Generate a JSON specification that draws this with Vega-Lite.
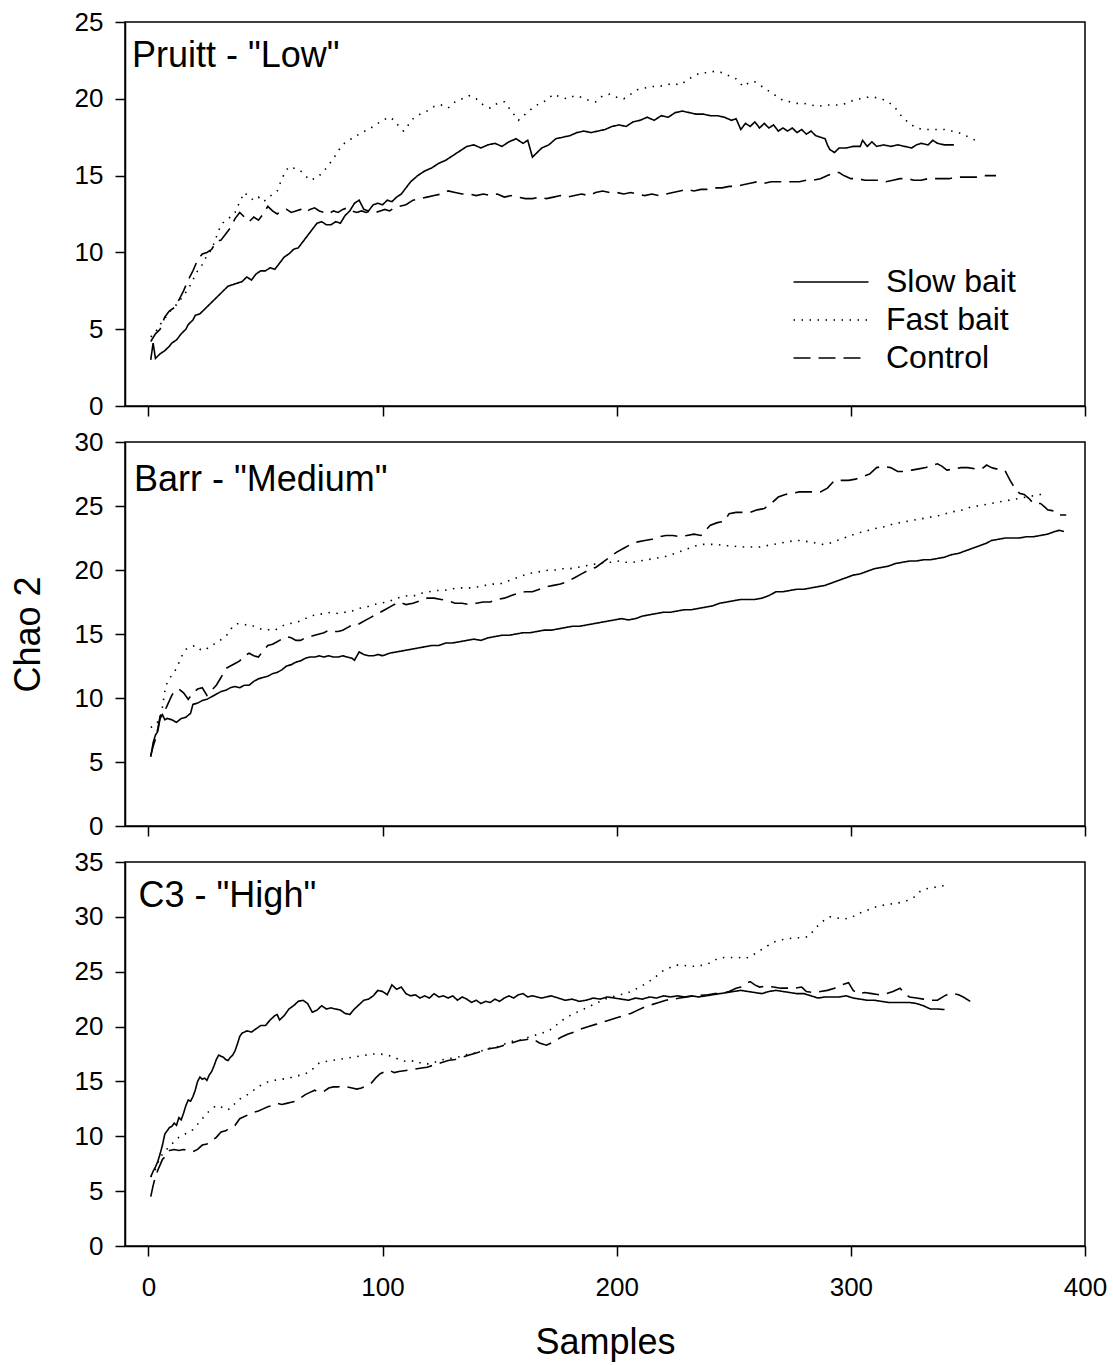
{
  "$schema": "https://vega.github.io/schema/vega-lite/v6.json",
  "background": "white",
  "padding": {"left": 9, "top": 8, "right": 5, "bottom": 5},
  "spacing": 36,
  "bounds": "flush",
  "resolve": {"scale": {"strokeDash": "independent"}, "legend": {"strokeDash": "independent"}},
  "datasets": {
    "pruitt": [
      {"s":"Slow bait","x":1,"y":3.0},{"s":"Slow bait","x":2,"y":4.1},{"s":"Slow bait","x":3,"y":3.1},{"s":"Slow bait","x":5,"y":3.4},{"s":"Slow bait","x":7,"y":3.6},{"s":"Slow bait","x":9,"y":3.9},{"s":"Slow bait","x":10,"y":4.1},{"s":"Slow bait","x":12,"y":4.3},{"s":"Slow bait","x":14,"y":4.7},{"s":"Slow bait","x":16,"y":5.0},{"s":"Slow bait","x":17,"y":5.3},{"s":"Slow bait","x":19,"y":5.6},{"s":"Slow bait","x":20,"y":5.9},{"s":"Slow bait","x":22,"y":6.0},{"s":"Slow bait","x":24,"y":6.3},{"s":"Slow bait","x":26,"y":6.6},{"s":"Slow bait","x":28,"y":6.9},{"s":"Slow bait","x":30,"y":7.2},{"s":"Slow bait","x":32,"y":7.5},{"s":"Slow bait","x":34,"y":7.8},{"s":"Slow bait","x":36,"y":7.9},{"s":"Slow bait","x":38,"y":8.0},{"s":"Slow bait","x":40,"y":8.1},{"s":"Slow bait","x":42,"y":8.4},{"s":"Slow bait","x":44,"y":8.2},{"s":"Slow bait","x":46,"y":8.6},{"s":"Slow bait","x":48,"y":8.8},{"s":"Slow bait","x":50,"y":8.8},{"s":"Slow bait","x":52,"y":9.0},{"s":"Slow bait","x":54,"y":8.9},{"s":"Slow bait","x":56,"y":9.3},{"s":"Slow bait","x":58,"y":9.7},{"s":"Slow bait","x":60,"y":9.9},{"s":"Slow bait","x":62,"y":10.2},{"s":"Slow bait","x":64,"y":10.3},{"s":"Slow bait","x":66,"y":10.7},{"s":"Slow bait","x":68,"y":11.1},{"s":"Slow bait","x":70,"y":11.5},{"s":"Slow bait","x":72,"y":11.9},{"s":"Slow bait","x":74,"y":12.0},{"s":"Slow bait","x":76,"y":11.8},{"s":"Slow bait","x":78,"y":11.8},{"s":"Slow bait","x":80,"y":12.0},{"s":"Slow bait","x":82,"y":11.9},{"s":"Slow bait","x":84,"y":12.4},{"s":"Slow bait","x":86,"y":12.7},{"s":"Slow bait","x":88,"y":13.2},{"s":"Slow bait","x":90,"y":13.4},{"s":"Slow bait","x":92,"y":12.8},{"s":"Slow bait","x":94,"y":12.7},{"s":"Slow bait","x":96,"y":13.1},{"s":"Slow bait","x":98,"y":13.2},{"s":"Slow bait","x":100,"y":13.1},{"s":"Slow bait","x":102,"y":13.4},{"s":"Slow bait","x":104,"y":13.3},{"s":"Slow bait","x":106,"y":13.6},{"s":"Slow bait","x":108,"y":13.8},{"s":"Slow bait","x":110,"y":14.2},{"s":"Slow bait","x":112,"y":14.6},{"s":"Slow bait","x":115,"y":15.0},{"s":"Slow bait","x":118,"y":15.3},{"s":"Slow bait","x":121,"y":15.5},{"s":"Slow bait","x":124,"y":15.8},{"s":"Slow bait","x":127,"y":16.0},{"s":"Slow bait","x":130,"y":16.3},{"s":"Slow bait","x":133,"y":16.6},{"s":"Slow bait","x":136,"y":16.9},{"s":"Slow bait","x":139,"y":17.0},{"s":"Slow bait","x":142,"y":16.8},{"s":"Slow bait","x":145,"y":17.0},{"s":"Slow bait","x":148,"y":17.1},{"s":"Slow bait","x":151,"y":16.9},{"s":"Slow bait","x":154,"y":17.2},{"s":"Slow bait","x":157,"y":17.4},{"s":"Slow bait","x":160,"y":17.1},{"s":"Slow bait","x":162,"y":17.3},{"s":"Slow bait","x":164,"y":16.2},{"s":"Slow bait","x":166,"y":16.5},{"s":"Slow bait","x":168,"y":16.8},{"s":"Slow bait","x":171,"y":17.0},{"s":"Slow bait","x":174,"y":17.4},{"s":"Slow bait","x":177,"y":17.5},{"s":"Slow bait","x":180,"y":17.6},{"s":"Slow bait","x":183,"y":17.8},{"s":"Slow bait","x":186,"y":17.9},{"s":"Slow bait","x":189,"y":17.8},{"s":"Slow bait","x":192,"y":17.9},{"s":"Slow bait","x":195,"y":18.0},{"s":"Slow bait","x":198,"y":18.2},{"s":"Slow bait","x":201,"y":18.3},{"s":"Slow bait","x":204,"y":18.2},{"s":"Slow bait","x":207,"y":18.5},{"s":"Slow bait","x":210,"y":18.6},{"s":"Slow bait","x":213,"y":18.8},{"s":"Slow bait","x":216,"y":18.6},{"s":"Slow bait","x":219,"y":18.9},{"s":"Slow bait","x":222,"y":18.8},{"s":"Slow bait","x":225,"y":19.1},{"s":"Slow bait","x":228,"y":19.2},{"s":"Slow bait","x":231,"y":19.1},{"s":"Slow bait","x":234,"y":19.0},{"s":"Slow bait","x":237,"y":19.0},{"s":"Slow bait","x":240,"y":18.9},{"s":"Slow bait","x":243,"y":18.9},{"s":"Slow bait","x":246,"y":18.8},{"s":"Slow bait","x":249,"y":18.6},{"s":"Slow bait","x":251,"y":18.7},{"s":"Slow bait","x":253,"y":18.0},{"s":"Slow bait","x":255,"y":18.4},{"s":"Slow bait","x":257,"y":18.2},{"s":"Slow bait","x":259,"y":18.5},{"s":"Slow bait","x":261,"y":18.1},{"s":"Slow bait","x":263,"y":18.4},{"s":"Slow bait","x":265,"y":18.1},{"s":"Slow bait","x":267,"y":18.3},{"s":"Slow bait","x":269,"y":17.9},{"s":"Slow bait","x":271,"y":18.1},{"s":"Slow bait","x":273,"y":17.9},{"s":"Slow bait","x":275,"y":18.1},{"s":"Slow bait","x":277,"y":17.8},{"s":"Slow bait","x":279,"y":18.0},{"s":"Slow bait","x":281,"y":17.7},{"s":"Slow bait","x":283,"y":17.9},{"s":"Slow bait","x":285,"y":17.6},{"s":"Slow bait","x":287,"y":17.5},{"s":"Slow bait","x":289,"y":17.4},{"s":"Slow bait","x":290,"y":17.0},{"s":"Slow bait","x":291,"y":16.7},{"s":"Slow bait","x":293,"y":16.5},{"s":"Slow bait","x":295,"y":16.8},{"s":"Slow bait","x":298,"y":16.8},{"s":"Slow bait","x":301,"y":16.9},{"s":"Slow bait","x":304,"y":16.9},{"s":"Slow bait","x":305,"y":17.3},{"s":"Slow bait","x":307,"y":16.9},{"s":"Slow bait","x":309,"y":17.2},{"s":"Slow bait","x":311,"y":16.9},{"s":"Slow bait","x":314,"y":17.0},{"s":"Slow bait","x":317,"y":16.9},{"s":"Slow bait","x":320,"y":17.0},{"s":"Slow bait","x":323,"y":16.9},{"s":"Slow bait","x":326,"y":16.8},{"s":"Slow bait","x":328,"y":17.0},{"s":"Slow bait","x":330,"y":17.1},{"s":"Slow bait","x":333,"y":17.0},{"s":"Slow bait","x":335,"y":17.3},{"s":"Slow bait","x":337,"y":17.1},{"s":"Slow bait","x":340,"y":17.0},{"s":"Slow bait","x":344,"y":17.0},
      {"s":"Fast bait","x":1,"y":4.5},{"s":"Fast bait","x":3,"y":4.8},{"s":"Fast bait","x":5,"y":5.3},{"s":"Fast bait","x":8,"y":5.9},{"s":"Fast bait","x":10,"y":6.3},{"s":"Fast bait","x":12,"y":6.6},{"s":"Fast bait","x":15,"y":7.2},{"s":"Fast bait","x":17,"y":7.6},{"s":"Fast bait","x":19,"y":8.2},{"s":"Fast bait","x":21,"y":8.8},{"s":"Fast bait","x":23,"y":9.2},{"s":"Fast bait","x":25,"y":9.8},{"s":"Fast bait","x":27,"y":10.2},{"s":"Fast bait","x":29,"y":11.0},{"s":"Fast bait","x":31,"y":11.8},{"s":"Fast bait","x":33,"y":12.1},{"s":"Fast bait","x":35,"y":12.3},{"s":"Fast bait","x":37,"y":12.6},{"s":"Fast bait","x":39,"y":13.3},{"s":"Fast bait","x":41,"y":13.9},{"s":"Fast bait","x":43,"y":13.6},{"s":"Fast bait","x":45,"y":13.4},{"s":"Fast bait","x":47,"y":13.6},{"s":"Fast bait","x":49,"y":13.3},{"s":"Fast bait","x":51,"y":13.5},{"s":"Fast bait","x":53,"y":13.8},{"s":"Fast bait","x":55,"y":14.0},{"s":"Fast bait","x":57,"y":14.8},{"s":"Fast bait","x":59,"y":15.4},{"s":"Fast bait","x":61,"y":15.6},{"s":"Fast bait","x":63,"y":15.4},{"s":"Fast bait","x":65,"y":15.3},{"s":"Fast bait","x":67,"y":15.0},{"s":"Fast bait","x":69,"y":14.7},{"s":"Fast bait","x":71,"y":14.8},{"s":"Fast bait","x":73,"y":15.0},{"s":"Fast bait","x":75,"y":15.3},{"s":"Fast bait","x":77,"y":15.7},{"s":"Fast bait","x":79,"y":16.1},{"s":"Fast bait","x":81,"y":16.6},{"s":"Fast bait","x":83,"y":17.0},{"s":"Fast bait","x":85,"y":17.3},{"s":"Fast bait","x":87,"y":17.4},{"s":"Fast bait","x":89,"y":17.6},{"s":"Fast bait","x":91,"y":17.8},{"s":"Fast bait","x":94,"y":18.0},{"s":"Fast bait","x":97,"y":18.3},{"s":"Fast bait","x":100,"y":18.6},{"s":"Fast bait","x":103,"y":18.8},{"s":"Fast bait","x":105,"y":18.6},{"s":"Fast bait","x":107,"y":18.2},{"s":"Fast bait","x":109,"y":17.9},{"s":"Fast bait","x":111,"y":18.3},{"s":"Fast bait","x":113,"y":18.7},{"s":"Fast bait","x":116,"y":19.0},{"s":"Fast bait","x":119,"y":19.2},{"s":"Fast bait","x":122,"y":19.5},{"s":"Fast bait","x":125,"y":19.6},{"s":"Fast bait","x":128,"y":19.4},{"s":"Fast bait","x":131,"y":19.8},{"s":"Fast bait","x":134,"y":20.0},{"s":"Fast bait","x":137,"y":20.2},{"s":"Fast bait","x":140,"y":20.0},{"s":"Fast bait","x":143,"y":19.6},{"s":"Fast bait","x":146,"y":19.4},{"s":"Fast bait","x":149,"y":19.7},{"s":"Fast bait","x":152,"y":19.8},{"s":"Fast bait","x":155,"y":19.2},{"s":"Fast bait","x":158,"y":18.6},{"s":"Fast bait","x":161,"y":19.0},{"s":"Fast bait","x":164,"y":19.4},{"s":"Fast bait","x":167,"y":19.7},{"s":"Fast bait","x":170,"y":19.9},{"s":"Fast bait","x":173,"y":20.3},{"s":"Fast bait","x":176,"y":20.1},{"s":"Fast bait","x":179,"y":20.0},{"s":"Fast bait","x":182,"y":20.2},{"s":"Fast bait","x":185,"y":20.1},{"s":"Fast bait","x":188,"y":19.9},{"s":"Fast bait","x":191,"y":19.8},{"s":"Fast bait","x":194,"y":20.2},{"s":"Fast bait","x":197,"y":20.3},{"s":"Fast bait","x":200,"y":20.1},{"s":"Fast bait","x":203,"y":20.0},{"s":"Fast bait","x":206,"y":20.3},{"s":"Fast bait","x":209,"y":20.6},{"s":"Fast bait","x":212,"y":20.7},{"s":"Fast bait","x":215,"y":20.8},{"s":"Fast bait","x":218,"y":20.8},{"s":"Fast bait","x":221,"y":20.9},{"s":"Fast bait","x":224,"y":21.0},{"s":"Fast bait","x":227,"y":20.9},{"s":"Fast bait","x":230,"y":21.2},{"s":"Fast bait","x":233,"y":21.5},{"s":"Fast bait","x":236,"y":21.7},{"s":"Fast bait","x":239,"y":21.7},{"s":"Fast bait","x":242,"y":21.8},{"s":"Fast bait","x":245,"y":21.7},{"s":"Fast bait","x":248,"y":21.5},{"s":"Fast bait","x":251,"y":21.3},{"s":"Fast bait","x":254,"y":20.8},{"s":"Fast bait","x":257,"y":21.1},{"s":"Fast bait","x":259,"y":21.1},{"s":"Fast bait","x":262,"y":20.8},{"s":"Fast bait","x":265,"y":20.5},{"s":"Fast bait","x":268,"y":20.2},{"s":"Fast bait","x":271,"y":19.9},{"s":"Fast bait","x":274,"y":19.8},{"s":"Fast bait","x":277,"y":19.7},{"s":"Fast bait","x":280,"y":19.7},{"s":"Fast bait","x":283,"y":19.6},{"s":"Fast bait","x":286,"y":19.5},{"s":"Fast bait","x":289,"y":19.6},{"s":"Fast bait","x":292,"y":19.6},{"s":"Fast bait","x":295,"y":19.6},{"s":"Fast bait","x":298,"y":19.7},{"s":"Fast bait","x":301,"y":19.9},{"s":"Fast bait","x":304,"y":20.0},{"s":"Fast bait","x":307,"y":20.1},{"s":"Fast bait","x":310,"y":20.1},{"s":"Fast bait","x":313,"y":20.0},{"s":"Fast bait","x":316,"y":19.8},{"s":"Fast bait","x":319,"y":19.4},{"s":"Fast bait","x":322,"y":18.8},{"s":"Fast bait","x":325,"y":18.4},{"s":"Fast bait","x":328,"y":18.1},{"s":"Fast bait","x":331,"y":18.0},{"s":"Fast bait","x":334,"y":18.0},{"s":"Fast bait","x":337,"y":18.0},{"s":"Fast bait","x":340,"y":18.0},{"s":"Fast bait","x":343,"y":17.9},{"s":"Fast bait","x":346,"y":17.8},{"s":"Fast bait","x":349,"y":17.6},{"s":"Fast bait","x":352,"y":17.4},{"s":"Fast bait","x":355,"y":17.1},
      {"s":"Control","x":1,"y":4.2},{"s":"Control","x":3,"y":4.7},{"s":"Control","x":5,"y":5.0},{"s":"Control","x":7,"y":5.8},{"s":"Control","x":9,"y":6.2},{"s":"Control","x":11,"y":6.4},{"s":"Control","x":13,"y":6.9},{"s":"Control","x":15,"y":7.5},{"s":"Control","x":17,"y":8.2},{"s":"Control","x":19,"y":8.8},{"s":"Control","x":21,"y":9.5},{"s":"Control","x":23,"y":9.9},{"s":"Control","x":25,"y":10.0},{"s":"Control","x":27,"y":10.2},{"s":"Control","x":29,"y":10.7},{"s":"Control","x":31,"y":10.8},{"s":"Control","x":33,"y":11.2},{"s":"Control","x":35,"y":11.6},{"s":"Control","x":37,"y":12.2},{"s":"Control","x":39,"y":12.6},{"s":"Control","x":41,"y":12.3},{"s":"Control","x":43,"y":12.0},{"s":"Control","x":45,"y":12.3},{"s":"Control","x":47,"y":12.1},{"s":"Control","x":49,"y":12.5},{"s":"Control","x":51,"y":13.0},{"s":"Control","x":53,"y":12.7},{"s":"Control","x":55,"y":12.5},{"s":"Control","x":57,"y":12.7},{"s":"Control","x":59,"y":12.8},{"s":"Control","x":61,"y":12.6},{"s":"Control","x":63,"y":12.7},{"s":"Control","x":65,"y":12.8},{"s":"Control","x":67,"y":12.6},{"s":"Control","x":69,"y":12.8},{"s":"Control","x":71,"y":12.9},{"s":"Control","x":73,"y":12.7},{"s":"Control","x":75,"y":12.6},{"s":"Control","x":77,"y":12.5},{"s":"Control","x":79,"y":12.7},{"s":"Control","x":81,"y":12.6},{"s":"Control","x":83,"y":12.8},{"s":"Control","x":85,"y":12.9},{"s":"Control","x":87,"y":12.7},{"s":"Control","x":89,"y":12.6},{"s":"Control","x":91,"y":12.7},{"s":"Control","x":93,"y":12.6},{"s":"Control","x":95,"y":12.7},{"s":"Control","x":97,"y":12.6},{"s":"Control","x":99,"y":12.7},{"s":"Control","x":101,"y":12.8},{"s":"Control","x":103,"y":12.7},{"s":"Control","x":105,"y":12.9},{"s":"Control","x":107,"y":13.0},{"s":"Control","x":110,"y":13.1},{"s":"Control","x":113,"y":13.4},{"s":"Control","x":116,"y":13.5},{"s":"Control","x":119,"y":13.6},{"s":"Control","x":122,"y":13.7},{"s":"Control","x":125,"y":13.8},{"s":"Control","x":128,"y":14.0},{"s":"Control","x":131,"y":13.9},{"s":"Control","x":134,"y":13.8},{"s":"Control","x":137,"y":13.8},{"s":"Control","x":140,"y":13.7},{"s":"Control","x":143,"y":13.8},{"s":"Control","x":146,"y":13.7},{"s":"Control","x":149,"y":13.8},{"s":"Control","x":152,"y":13.6},{"s":"Control","x":155,"y":13.7},{"s":"Control","x":158,"y":13.6},{"s":"Control","x":161,"y":13.5},{"s":"Control","x":164,"y":13.5},{"s":"Control","x":167,"y":13.6},{"s":"Control","x":170,"y":13.5},{"s":"Control","x":173,"y":13.6},{"s":"Control","x":176,"y":13.7},{"s":"Control","x":179,"y":13.6},{"s":"Control","x":182,"y":13.7},{"s":"Control","x":185,"y":13.8},{"s":"Control","x":188,"y":13.7},{"s":"Control","x":191,"y":13.9},{"s":"Control","x":194,"y":14.0},{"s":"Control","x":197,"y":13.9},{"s":"Control","x":200,"y":13.9},{"s":"Control","x":203,"y":13.8},{"s":"Control","x":206,"y":13.9},{"s":"Control","x":209,"y":13.8},{"s":"Control","x":212,"y":13.7},{"s":"Control","x":215,"y":13.8},{"s":"Control","x":218,"y":13.7},{"s":"Control","x":221,"y":13.8},{"s":"Control","x":224,"y":13.9},{"s":"Control","x":227,"y":14.0},{"s":"Control","x":230,"y":14.1},{"s":"Control","x":233,"y":14.0},{"s":"Control","x":236,"y":14.1},{"s":"Control","x":239,"y":14.1},{"s":"Control","x":242,"y":14.2},{"s":"Control","x":245,"y":14.2},{"s":"Control","x":248,"y":14.3},{"s":"Control","x":251,"y":14.3},{"s":"Control","x":254,"y":14.4},{"s":"Control","x":257,"y":14.5},{"s":"Control","x":260,"y":14.6},{"s":"Control","x":263,"y":14.5},{"s":"Control","x":266,"y":14.6},{"s":"Control","x":269,"y":14.6},{"s":"Control","x":272,"y":14.6},{"s":"Control","x":275,"y":14.6},{"s":"Control","x":278,"y":14.6},{"s":"Control","x":281,"y":14.7},{"s":"Control","x":284,"y":14.7},{"s":"Control","x":287,"y":14.8},{"s":"Control","x":290,"y":15.0},{"s":"Control","x":293,"y":15.2},{"s":"Control","x":295,"y":15.2},{"s":"Control","x":297,"y":15.0},{"s":"Control","x":300,"y":14.8},{"s":"Control","x":303,"y":14.8},{"s":"Control","x":306,"y":14.7},{"s":"Control","x":309,"y":14.7},{"s":"Control","x":312,"y":14.7},{"s":"Control","x":315,"y":14.6},{"s":"Control","x":318,"y":14.7},{"s":"Control","x":321,"y":14.8},{"s":"Control","x":324,"y":14.8},{"s":"Control","x":327,"y":14.7},{"s":"Control","x":330,"y":14.7},{"s":"Control","x":333,"y":14.8},{"s":"Control","x":336,"y":14.8},{"s":"Control","x":339,"y":14.8},{"s":"Control","x":342,"y":14.8},{"s":"Control","x":345,"y":14.9},{"s":"Control","x":348,"y":14.9},{"s":"Control","x":351,"y":14.9},{"s":"Control","x":354,"y":14.9},{"s":"Control","x":357,"y":15.0},{"s":"Control","x":360,"y":15.0},{"s":"Control","x":362,"y":15.0}
    ],
    "barr": [
      {"s":"Slow bait","x":1,"y":5.4},{"s":"Slow bait","x":2,"y":6.5},{"s":"Slow bait","x":3,"y":7.1},{"s":"Slow bait","x":4,"y":7.4},{"s":"Slow bait","x":5,"y":8.4},{"s":"Slow bait","x":6,"y":8.7},{"s":"Slow bait","x":7,"y":8.3},{"s":"Slow bait","x":8,"y":8.4},{"s":"Slow bait","x":10,"y":8.3},{"s":"Slow bait","x":12,"y":8.1},{"s":"Slow bait","x":14,"y":8.4},{"s":"Slow bait","x":16,"y":8.5},{"s":"Slow bait","x":18,"y":8.8},{"s":"Slow bait","x":19,"y":9.5},{"s":"Slow bait","x":21,"y":9.6},{"s":"Slow bait","x":23,"y":9.8},{"s":"Slow bait","x":25,"y":9.9},{"s":"Slow bait","x":27,"y":10.1},{"s":"Slow bait","x":29,"y":10.3},{"s":"Slow bait","x":31,"y":10.5},{"s":"Slow bait","x":33,"y":10.6},{"s":"Slow bait","x":35,"y":10.8},{"s":"Slow bait","x":37,"y":10.9},{"s":"Slow bait","x":39,"y":10.8},{"s":"Slow bait","x":41,"y":11.0},{"s":"Slow bait","x":43,"y":11.0},{"s":"Slow bait","x":45,"y":11.3},{"s":"Slow bait","x":47,"y":11.5},{"s":"Slow bait","x":49,"y":11.6},{"s":"Slow bait","x":51,"y":11.7},{"s":"Slow bait","x":53,"y":11.9},{"s":"Slow bait","x":55,"y":12.0},{"s":"Slow bait","x":57,"y":12.2},{"s":"Slow bait","x":59,"y":12.5},{"s":"Slow bait","x":61,"y":12.6},{"s":"Slow bait","x":63,"y":12.8},{"s":"Slow bait","x":65,"y":12.9},{"s":"Slow bait","x":67,"y":13.1},{"s":"Slow bait","x":69,"y":13.2},{"s":"Slow bait","x":71,"y":13.2},{"s":"Slow bait","x":73,"y":13.3},{"s":"Slow bait","x":75,"y":13.2},{"s":"Slow bait","x":77,"y":13.3},{"s":"Slow bait","x":79,"y":13.2},{"s":"Slow bait","x":81,"y":13.2},{"s":"Slow bait","x":83,"y":13.3},{"s":"Slow bait","x":85,"y":13.2},{"s":"Slow bait","x":87,"y":13.1},{"s":"Slow bait","x":88,"y":12.95},{"s":"Slow bait","x":90,"y":13.6},{"s":"Slow bait","x":92,"y":13.4},{"s":"Slow bait","x":94,"y":13.3},{"s":"Slow bait","x":96,"y":13.3},{"s":"Slow bait","x":98,"y":13.4},{"s":"Slow bait","x":100,"y":13.3},{"s":"Slow bait","x":103,"y":13.5},{"s":"Slow bait","x":106,"y":13.6},{"s":"Slow bait","x":109,"y":13.7},{"s":"Slow bait","x":112,"y":13.8},{"s":"Slow bait","x":115,"y":13.9},{"s":"Slow bait","x":118,"y":14.0},{"s":"Slow bait","x":121,"y":14.1},{"s":"Slow bait","x":124,"y":14.1},{"s":"Slow bait","x":127,"y":14.3},{"s":"Slow bait","x":130,"y":14.3},{"s":"Slow bait","x":133,"y":14.4},{"s":"Slow bait","x":136,"y":14.5},{"s":"Slow bait","x":139,"y":14.6},{"s":"Slow bait","x":142,"y":14.5},{"s":"Slow bait","x":145,"y":14.7},{"s":"Slow bait","x":148,"y":14.8},{"s":"Slow bait","x":151,"y":14.9},{"s":"Slow bait","x":154,"y":14.9},{"s":"Slow bait","x":157,"y":15.0},{"s":"Slow bait","x":160,"y":15.1},{"s":"Slow bait","x":163,"y":15.1},{"s":"Slow bait","x":166,"y":15.2},{"s":"Slow bait","x":169,"y":15.3},{"s":"Slow bait","x":172,"y":15.3},{"s":"Slow bait","x":175,"y":15.4},{"s":"Slow bait","x":178,"y":15.5},{"s":"Slow bait","x":181,"y":15.6},{"s":"Slow bait","x":184,"y":15.6},{"s":"Slow bait","x":187,"y":15.7},{"s":"Slow bait","x":190,"y":15.8},{"s":"Slow bait","x":193,"y":15.9},{"s":"Slow bait","x":196,"y":16.0},{"s":"Slow bait","x":199,"y":16.1},{"s":"Slow bait","x":202,"y":16.2},{"s":"Slow bait","x":205,"y":16.1},{"s":"Slow bait","x":208,"y":16.2},{"s":"Slow bait","x":211,"y":16.4},{"s":"Slow bait","x":214,"y":16.5},{"s":"Slow bait","x":217,"y":16.6},{"s":"Slow bait","x":220,"y":16.7},{"s":"Slow bait","x":223,"y":16.7},{"s":"Slow bait","x":226,"y":16.8},{"s":"Slow bait","x":229,"y":16.9},{"s":"Slow bait","x":232,"y":16.9},{"s":"Slow bait","x":235,"y":17.0},{"s":"Slow bait","x":238,"y":17.1},{"s":"Slow bait","x":241,"y":17.2},{"s":"Slow bait","x":244,"y":17.4},{"s":"Slow bait","x":247,"y":17.5},{"s":"Slow bait","x":250,"y":17.6},{"s":"Slow bait","x":253,"y":17.7},{"s":"Slow bait","x":256,"y":17.7},{"s":"Slow bait","x":259,"y":17.7},{"s":"Slow bait","x":262,"y":17.8},{"s":"Slow bait","x":265,"y":18.0},{"s":"Slow bait","x":268,"y":18.3},{"s":"Slow bait","x":271,"y":18.3},{"s":"Slow bait","x":274,"y":18.4},{"s":"Slow bait","x":277,"y":18.5},{"s":"Slow bait","x":280,"y":18.5},{"s":"Slow bait","x":283,"y":18.6},{"s":"Slow bait","x":286,"y":18.7},{"s":"Slow bait","x":289,"y":18.8},{"s":"Slow bait","x":292,"y":19.0},{"s":"Slow bait","x":295,"y":19.2},{"s":"Slow bait","x":298,"y":19.4},{"s":"Slow bait","x":301,"y":19.6},{"s":"Slow bait","x":304,"y":19.7},{"s":"Slow bait","x":307,"y":19.9},{"s":"Slow bait","x":310,"y":20.1},{"s":"Slow bait","x":313,"y":20.2},{"s":"Slow bait","x":316,"y":20.3},{"s":"Slow bait","x":319,"y":20.5},{"s":"Slow bait","x":322,"y":20.6},{"s":"Slow bait","x":325,"y":20.7},{"s":"Slow bait","x":328,"y":20.7},{"s":"Slow bait","x":331,"y":20.8},{"s":"Slow bait","x":334,"y":20.8},{"s":"Slow bait","x":337,"y":20.9},{"s":"Slow bait","x":340,"y":21.0},{"s":"Slow bait","x":343,"y":21.2},{"s":"Slow bait","x":346,"y":21.3},{"s":"Slow bait","x":349,"y":21.5},{"s":"Slow bait","x":352,"y":21.7},{"s":"Slow bait","x":355,"y":21.9},{"s":"Slow bait","x":358,"y":22.1},{"s":"Slow bait","x":360,"y":22.3},{"s":"Slow bait","x":363,"y":22.4},{"s":"Slow bait","x":366,"y":22.5},{"s":"Slow bait","x":369,"y":22.5},{"s":"Slow bait","x":372,"y":22.5},{"s":"Slow bait","x":375,"y":22.6},{"s":"Slow bait","x":378,"y":22.6},{"s":"Slow bait","x":381,"y":22.7},{"s":"Slow bait","x":384,"y":22.8},{"s":"Slow bait","x":387,"y":23.0},{"s":"Slow bait","x":389,"y":23.1},{"s":"Slow bait","x":391,"y":23.0},
      {"s":"Fast bait","x":1,"y":7.7},{"s":"Fast bait","x":3,"y":7.9},{"s":"Fast bait","x":5,"y":8.4},{"s":"Fast bait","x":6,"y":9.3},{"s":"Fast bait","x":7,"y":10.5},{"s":"Fast bait","x":8,"y":11.2},{"s":"Fast bait","x":10,"y":11.8},{"s":"Fast bait","x":12,"y":12.3},{"s":"Fast bait","x":14,"y":13.2},{"s":"Fast bait","x":16,"y":13.8},{"s":"Fast bait","x":18,"y":14.0},{"s":"Fast bait","x":20,"y":14.1},{"s":"Fast bait","x":22,"y":13.8},{"s":"Fast bait","x":24,"y":13.7},{"s":"Fast bait","x":26,"y":14.0},{"s":"Fast bait","x":28,"y":14.2},{"s":"Fast bait","x":30,"y":14.4},{"s":"Fast bait","x":32,"y":14.7},{"s":"Fast bait","x":34,"y":15.0},{"s":"Fast bait","x":36,"y":15.6},{"s":"Fast bait","x":38,"y":15.8},{"s":"Fast bait","x":40,"y":15.8},{"s":"Fast bait","x":42,"y":15.7},{"s":"Fast bait","x":44,"y":15.7},{"s":"Fast bait","x":46,"y":15.5},{"s":"Fast bait","x":48,"y":15.4},{"s":"Fast bait","x":50,"y":15.4},{"s":"Fast bait","x":52,"y":15.3},{"s":"Fast bait","x":54,"y":15.3},{"s":"Fast bait","x":56,"y":15.5},{"s":"Fast bait","x":58,"y":15.7},{"s":"Fast bait","x":60,"y":15.8},{"s":"Fast bait","x":63,"y":15.9},{"s":"Fast bait","x":66,"y":16.1},{"s":"Fast bait","x":69,"y":16.4},{"s":"Fast bait","x":72,"y":16.5},{"s":"Fast bait","x":75,"y":16.6},{"s":"Fast bait","x":78,"y":16.7},{"s":"Fast bait","x":81,"y":16.6},{"s":"Fast bait","x":84,"y":16.7},{"s":"Fast bait","x":87,"y":16.8},{"s":"Fast bait","x":90,"y":17.0},{"s":"Fast bait","x":93,"y":17.1},{"s":"Fast bait","x":96,"y":17.3},{"s":"Fast bait","x":99,"y":17.4},{"s":"Fast bait","x":102,"y":17.5},{"s":"Fast bait","x":105,"y":17.7},{"s":"Fast bait","x":108,"y":17.9},{"s":"Fast bait","x":111,"y":18.0},{"s":"Fast bait","x":114,"y":18.0},{"s":"Fast bait","x":117,"y":18.2},{"s":"Fast bait","x":120,"y":18.3},{"s":"Fast bait","x":123,"y":18.4},{"s":"Fast bait","x":126,"y":18.4},{"s":"Fast bait","x":129,"y":18.5},{"s":"Fast bait","x":132,"y":18.6},{"s":"Fast bait","x":135,"y":18.6},{"s":"Fast bait","x":138,"y":18.6},{"s":"Fast bait","x":141,"y":18.7},{"s":"Fast bait","x":144,"y":18.8},{"s":"Fast bait","x":147,"y":18.9},{"s":"Fast bait","x":150,"y":18.9},{"s":"Fast bait","x":153,"y":19.1},{"s":"Fast bait","x":156,"y":19.3},{"s":"Fast bait","x":159,"y":19.5},{"s":"Fast bait","x":162,"y":19.7},{"s":"Fast bait","x":165,"y":19.8},{"s":"Fast bait","x":168,"y":19.9},{"s":"Fast bait","x":171,"y":20.0},{"s":"Fast bait","x":174,"y":20.0},{"s":"Fast bait","x":177,"y":20.1},{"s":"Fast bait","x":180,"y":20.1},{"s":"Fast bait","x":183,"y":20.2},{"s":"Fast bait","x":186,"y":20.3},{"s":"Fast bait","x":189,"y":20.4},{"s":"Fast bait","x":192,"y":20.5},{"s":"Fast bait","x":195,"y":20.6},{"s":"Fast bait","x":198,"y":20.6},{"s":"Fast bait","x":201,"y":20.7},{"s":"Fast bait","x":204,"y":20.6},{"s":"Fast bait","x":207,"y":20.6},{"s":"Fast bait","x":210,"y":20.7},{"s":"Fast bait","x":213,"y":20.8},{"s":"Fast bait","x":216,"y":20.9},{"s":"Fast bait","x":219,"y":21.0},{"s":"Fast bait","x":222,"y":21.1},{"s":"Fast bait","x":225,"y":21.3},{"s":"Fast bait","x":228,"y":21.5},{"s":"Fast bait","x":231,"y":21.7},{"s":"Fast bait","x":234,"y":21.9},{"s":"Fast bait","x":237,"y":22.0},{"s":"Fast bait","x":240,"y":22.0},{"s":"Fast bait","x":243,"y":22.0},{"s":"Fast bait","x":246,"y":21.9},{"s":"Fast bait","x":249,"y":21.9},{"s":"Fast bait","x":252,"y":21.8},{"s":"Fast bait","x":255,"y":21.8},{"s":"Fast bait","x":258,"y":21.8},{"s":"Fast bait","x":261,"y":21.8},{"s":"Fast bait","x":264,"y":21.9},{"s":"Fast bait","x":267,"y":22.0},{"s":"Fast bait","x":270,"y":22.1},{"s":"Fast bait","x":273,"y":22.2},{"s":"Fast bait","x":276,"y":22.3},{"s":"Fast bait","x":279,"y":22.3},{"s":"Fast bait","x":282,"y":22.2},{"s":"Fast bait","x":285,"y":22.1},{"s":"Fast bait","x":288,"y":22.0},{"s":"Fast bait","x":291,"y":22.1},{"s":"Fast bait","x":294,"y":22.3},{"s":"Fast bait","x":297,"y":22.5},{"s":"Fast bait","x":300,"y":22.7},{"s":"Fast bait","x":303,"y":22.9},{"s":"Fast bait","x":306,"y":23.0},{"s":"Fast bait","x":309,"y":23.2},{"s":"Fast bait","x":312,"y":23.3},{"s":"Fast bait","x":315,"y":23.4},{"s":"Fast bait","x":318,"y":23.6},{"s":"Fast bait","x":321,"y":23.7},{"s":"Fast bait","x":324,"y":23.8},{"s":"Fast bait","x":327,"y":23.9},{"s":"Fast bait","x":330,"y":24.0},{"s":"Fast bait","x":333,"y":24.1},{"s":"Fast bait","x":336,"y":24.2},{"s":"Fast bait","x":339,"y":24.3},{"s":"Fast bait","x":342,"y":24.5},{"s":"Fast bait","x":345,"y":24.6},{"s":"Fast bait","x":348,"y":24.7},{"s":"Fast bait","x":351,"y":24.9},{"s":"Fast bait","x":354,"y":25.0},{"s":"Fast bait","x":357,"y":25.1},{"s":"Fast bait","x":360,"y":25.2},{"s":"Fast bait","x":363,"y":25.3},{"s":"Fast bait","x":366,"y":25.4},{"s":"Fast bait","x":369,"y":25.5},{"s":"Fast bait","x":372,"y":25.6},{"s":"Fast bait","x":375,"y":25.7},{"s":"Fast bait","x":378,"y":25.8},{"s":"Fast bait","x":381,"y":25.9},{"s":"Fast bait","x":383,"y":26.0},
      {"s":"Control","x":1,"y":5.5},{"s":"Control","x":2,"y":6.2},{"s":"Control","x":3,"y":6.8},{"s":"Control","x":4,"y":7.6},{"s":"Control","x":5,"y":8.6},{"s":"Control","x":7,"y":9.0},{"s":"Control","x":8,"y":9.4},{"s":"Control","x":10,"y":10.2},{"s":"Control","x":11,"y":10.5},{"s":"Control","x":13,"y":10.7},{"s":"Control","x":15,"y":10.4},{"s":"Control","x":17,"y":9.9},{"s":"Control","x":19,"y":10.4},{"s":"Control","x":21,"y":10.7},{"s":"Control","x":23,"y":10.8},{"s":"Control","x":25,"y":10.2},{"s":"Control","x":27,"y":10.6},{"s":"Control","x":29,"y":11.0},{"s":"Control","x":31,"y":11.6},{"s":"Control","x":33,"y":12.3},{"s":"Control","x":35,"y":12.5},{"s":"Control","x":37,"y":12.7},{"s":"Control","x":39,"y":12.9},{"s":"Control","x":41,"y":13.3},{"s":"Control","x":43,"y":13.5},{"s":"Control","x":45,"y":13.3},{"s":"Control","x":47,"y":13.2},{"s":"Control","x":49,"y":13.7},{"s":"Control","x":51,"y":14.1},{"s":"Control","x":53,"y":14.2},{"s":"Control","x":55,"y":14.4},{"s":"Control","x":57,"y":14.6},{"s":"Control","x":59,"y":14.8},{"s":"Control","x":61,"y":14.7},{"s":"Control","x":63,"y":14.5},{"s":"Control","x":65,"y":14.5},{"s":"Control","x":67,"y":14.7},{"s":"Control","x":69,"y":14.8},{"s":"Control","x":71,"y":14.9},{"s":"Control","x":73,"y":15.0},{"s":"Control","x":75,"y":15.1},{"s":"Control","x":77,"y":15.3},{"s":"Control","x":79,"y":15.2},{"s":"Control","x":81,"y":15.2},{"s":"Control","x":83,"y":15.3},{"s":"Control","x":85,"y":15.5},{"s":"Control","x":87,"y":15.7},{"s":"Control","x":89,"y":15.7},{"s":"Control","x":91,"y":15.9},{"s":"Control","x":93,"y":16.1},{"s":"Control","x":95,"y":16.3},{"s":"Control","x":97,"y":16.5},{"s":"Control","x":99,"y":16.7},{"s":"Control","x":101,"y":16.9},{"s":"Control","x":103,"y":17.1},{"s":"Control","x":105,"y":17.3},{"s":"Control","x":107,"y":17.5},{"s":"Control","x":110,"y":17.3},{"s":"Control","x":113,"y":17.4},{"s":"Control","x":116,"y":17.6},{"s":"Control","x":119,"y":17.8},{"s":"Control","x":122,"y":17.8},{"s":"Control","x":125,"y":17.7},{"s":"Control","x":128,"y":17.6},{"s":"Control","x":131,"y":17.4},{"s":"Control","x":134,"y":17.4},{"s":"Control","x":137,"y":17.3},{"s":"Control","x":140,"y":17.4},{"s":"Control","x":143,"y":17.5},{"s":"Control","x":146,"y":17.5},{"s":"Control","x":149,"y":17.7},{"s":"Control","x":152,"y":17.8},{"s":"Control","x":155,"y":18.0},{"s":"Control","x":158,"y":18.2},{"s":"Control","x":161,"y":18.3},{"s":"Control","x":164,"y":18.3},{"s":"Control","x":167,"y":18.5},{"s":"Control","x":170,"y":18.7},{"s":"Control","x":173,"y":18.8},{"s":"Control","x":176,"y":18.9},{"s":"Control","x":179,"y":19.1},{"s":"Control","x":182,"y":19.4},{"s":"Control","x":185,"y":19.7},{"s":"Control","x":188,"y":20.0},{"s":"Control","x":191,"y":20.2},{"s":"Control","x":194,"y":20.6},{"s":"Control","x":197,"y":21.0},{"s":"Control","x":200,"y":21.4},{"s":"Control","x":203,"y":21.7},{"s":"Control","x":206,"y":22.0},{"s":"Control","x":209,"y":22.2},{"s":"Control","x":212,"y":22.3},{"s":"Control","x":215,"y":22.4},{"s":"Control","x":218,"y":22.6},{"s":"Control","x":221,"y":22.7},{"s":"Control","x":224,"y":22.7},{"s":"Control","x":227,"y":22.6},{"s":"Control","x":230,"y":22.7},{"s":"Control","x":233,"y":22.8},{"s":"Control","x":236,"y":22.7},{"s":"Control","x":238,"y":23.1},{"s":"Control","x":240,"y":23.5},{"s":"Control","x":243,"y":23.7},{"s":"Control","x":246,"y":23.8},{"s":"Control","x":248,"y":24.4},{"s":"Control","x":251,"y":24.5},{"s":"Control","x":254,"y":24.5},{"s":"Control","x":257,"y":24.5},{"s":"Control","x":260,"y":24.7},{"s":"Control","x":263,"y":24.8},{"s":"Control","x":266,"y":25.2},{"s":"Control","x":269,"y":25.7},{"s":"Control","x":272,"y":25.9},{"s":"Control","x":275,"y":26.0},{"s":"Control","x":278,"y":26.1},{"s":"Control","x":281,"y":26.1},{"s":"Control","x":284,"y":26.1},{"s":"Control","x":287,"y":26.1},{"s":"Control","x":290,"y":26.4},{"s":"Control","x":293,"y":27.0},{"s":"Control","x":296,"y":27.0},{"s":"Control","x":299,"y":27.0},{"s":"Control","x":302,"y":27.1},{"s":"Control","x":305,"y":27.3},{"s":"Control","x":308,"y":27.5},{"s":"Control","x":311,"y":28.0},{"s":"Control","x":314,"y":28.1},{"s":"Control","x":317,"y":28.0},{"s":"Control","x":320,"y":27.7},{"s":"Control","x":323,"y":27.7},{"s":"Control","x":326,"y":27.8},{"s":"Control","x":329,"y":27.9},{"s":"Control","x":332,"y":28.0},{"s":"Control","x":335,"y":28.2},{"s":"Control","x":337,"y":28.3},{"s":"Control","x":339,"y":28.1},{"s":"Control","x":341,"y":27.8},{"s":"Control","x":344,"y":27.9},{"s":"Control","x":347,"y":28.0},{"s":"Control","x":350,"y":28.0},{"s":"Control","x":353,"y":27.9},{"s":"Control","x":356,"y":27.9},{"s":"Control","x":358,"y":28.2},{"s":"Control","x":360,"y":28.0},{"s":"Control","x":362,"y":27.9},{"s":"Control","x":364,"y":27.9},{"s":"Control","x":366,"y":27.7},{"s":"Control","x":368,"y":27.0},{"s":"Control","x":370,"y":26.4},{"s":"Control","x":372,"y":26.0},{"s":"Control","x":374,"y":25.9},{"s":"Control","x":376,"y":25.6},{"s":"Control","x":378,"y":25.2},{"s":"Control","x":381,"y":25.2},{"s":"Control","x":383,"y":24.9},{"s":"Control","x":384,"y":24.7},{"s":"Control","x":387,"y":24.6},{"s":"Control","x":389,"y":24.3},{"s":"Control","x":392,"y":24.3}
    ],
    "c3": [
      {"s":"Slow bait","x":1,"y":6.3},{"s":"Slow bait","x":2,"y":6.8},{"s":"Slow bait","x":3,"y":7.2},{"s":"Slow bait","x":4,"y":7.7},{"s":"Slow bait","x":5,"y":8.4},{"s":"Slow bait","x":6,"y":9.2},{"s":"Slow bait","x":7,"y":10.2},{"s":"Slow bait","x":8,"y":10.5},{"s":"Slow bait","x":9,"y":10.8},{"s":"Slow bait","x":10,"y":10.9},{"s":"Slow bait","x":11,"y":11.2},{"s":"Slow bait","x":12,"y":11.0},{"s":"Slow bait","x":13,"y":11.7},{"s":"Slow bait","x":14,"y":11.5},{"s":"Slow bait","x":15,"y":12.1},{"s":"Slow bait","x":16,"y":12.8},{"s":"Slow bait","x":17,"y":13.3},{"s":"Slow bait","x":18,"y":13.2},{"s":"Slow bait","x":19,"y":13.6},{"s":"Slow bait","x":20,"y":14.2},{"s":"Slow bait","x":21,"y":15.0},{"s":"Slow bait","x":22,"y":15.4},{"s":"Slow bait","x":23,"y":15.2},{"s":"Slow bait","x":24,"y":15.3},{"s":"Slow bait","x":25,"y":15.1},{"s":"Slow bait","x":26,"y":15.6},{"s":"Slow bait","x":27,"y":15.9},{"s":"Slow bait","x":28,"y":16.4},{"s":"Slow bait","x":29,"y":17.0},{"s":"Slow bait","x":30,"y":17.4},{"s":"Slow bait","x":31,"y":17.3},{"s":"Slow bait","x":32,"y":17.2},{"s":"Slow bait","x":33,"y":17.0},{"s":"Slow bait","x":34,"y":16.9},{"s":"Slow bait","x":35,"y":17.2},{"s":"Slow bait","x":36,"y":17.4},{"s":"Slow bait","x":37,"y":17.8},{"s":"Slow bait","x":38,"y":18.4},{"s":"Slow bait","x":39,"y":19.1},{"s":"Slow bait","x":40,"y":19.4},{"s":"Slow bait","x":42,"y":19.6},{"s":"Slow bait","x":44,"y":19.5},{"s":"Slow bait","x":46,"y":19.8},{"s":"Slow bait","x":48,"y":20.1},{"s":"Slow bait","x":50,"y":20.1},{"s":"Slow bait","x":52,"y":20.6},{"s":"Slow bait","x":54,"y":21.0},{"s":"Slow bait","x":55,"y":21.1},{"s":"Slow bait","x":56,"y":20.6},{"s":"Slow bait","x":58,"y":21.0},{"s":"Slow bait","x":60,"y":21.6},{"s":"Slow bait","x":62,"y":21.9},{"s":"Slow bait","x":64,"y":22.3},{"s":"Slow bait","x":66,"y":22.4},{"s":"Slow bait","x":68,"y":22.1},{"s":"Slow bait","x":70,"y":21.3},{"s":"Slow bait","x":72,"y":21.5},{"s":"Slow bait","x":74,"y":21.9},{"s":"Slow bait","x":76,"y":21.6},{"s":"Slow bait","x":78,"y":21.7},{"s":"Slow bait","x":80,"y":21.6},{"s":"Slow bait","x":82,"y":21.5},{"s":"Slow bait","x":84,"y":21.2},{"s":"Slow bait","x":86,"y":21.1},{"s":"Slow bait","x":88,"y":21.6},{"s":"Slow bait","x":90,"y":22.0},{"s":"Slow bait","x":92,"y":22.4},{"s":"Slow bait","x":94,"y":22.5},{"s":"Slow bait","x":96,"y":22.8},{"s":"Slow bait","x":98,"y":23.3},{"s":"Slow bait","x":100,"y":23.2},{"s":"Slow bait","x":102,"y":22.9},{"s":"Slow bait","x":104,"y":23.8},{"s":"Slow bait","x":106,"y":23.4},{"s":"Slow bait","x":108,"y":23.6},{"s":"Slow bait","x":110,"y":23.0},{"s":"Slow bait","x":112,"y":22.8},{"s":"Slow bait","x":114,"y":22.9},{"s":"Slow bait","x":116,"y":22.6},{"s":"Slow bait","x":118,"y":22.8},{"s":"Slow bait","x":120,"y":22.6},{"s":"Slow bait","x":122,"y":23.0},{"s":"Slow bait","x":124,"y":22.7},{"s":"Slow bait","x":126,"y":22.8},{"s":"Slow bait","x":128,"y":22.6},{"s":"Slow bait","x":130,"y":22.8},{"s":"Slow bait","x":132,"y":22.4},{"s":"Slow bait","x":134,"y":22.7},{"s":"Slow bait","x":136,"y":22.5},{"s":"Slow bait","x":138,"y":22.2},{"s":"Slow bait","x":140,"y":22.4},{"s":"Slow bait","x":142,"y":22.1},{"s":"Slow bait","x":144,"y":22.3},{"s":"Slow bait","x":146,"y":22.2},{"s":"Slow bait","x":148,"y":22.5},{"s":"Slow bait","x":150,"y":22.3},{"s":"Slow bait","x":152,"y":22.6},{"s":"Slow bait","x":154,"y":22.8},{"s":"Slow bait","x":156,"y":22.6},{"s":"Slow bait","x":158,"y":22.9},{"s":"Slow bait","x":160,"y":23.0},{"s":"Slow bait","x":162,"y":22.7},{"s":"Slow bait","x":164,"y":22.8},{"s":"Slow bait","x":166,"y":22.7},{"s":"Slow bait","x":168,"y":22.6},{"s":"Slow bait","x":170,"y":22.7},{"s":"Slow bait","x":172,"y":22.8},{"s":"Slow bait","x":175,"y":22.6},{"s":"Slow bait","x":178,"y":22.4},{"s":"Slow bait","x":181,"y":22.5},{"s":"Slow bait","x":184,"y":22.3},{"s":"Slow bait","x":187,"y":22.4},{"s":"Slow bait","x":190,"y":22.6},{"s":"Slow bait","x":193,"y":22.5},{"s":"Slow bait","x":196,"y":22.7},{"s":"Slow bait","x":199,"y":22.6},{"s":"Slow bait","x":202,"y":22.5},{"s":"Slow bait","x":205,"y":22.4},{"s":"Slow bait","x":208,"y":22.6},{"s":"Slow bait","x":211,"y":22.5},{"s":"Slow bait","x":214,"y":22.7},{"s":"Slow bait","x":217,"y":22.6},{"s":"Slow bait","x":220,"y":22.8},{"s":"Slow bait","x":223,"y":22.7},{"s":"Slow bait","x":226,"y":22.8},{"s":"Slow bait","x":229,"y":22.7},{"s":"Slow bait","x":232,"y":22.8},{"s":"Slow bait","x":235,"y":22.7},{"s":"Slow bait","x":238,"y":22.8},{"s":"Slow bait","x":241,"y":22.9},{"s":"Slow bait","x":244,"y":23.0},{"s":"Slow bait","x":247,"y":23.1},{"s":"Slow bait","x":250,"y":23.2},{"s":"Slow bait","x":253,"y":23.3},{"s":"Slow bait","x":256,"y":23.2},{"s":"Slow bait","x":259,"y":23.1},{"s":"Slow bait","x":262,"y":23.0},{"s":"Slow bait","x":265,"y":23.2},{"s":"Slow bait","x":268,"y":23.3},{"s":"Slow bait","x":271,"y":23.2},{"s":"Slow bait","x":274,"y":23.1},{"s":"Slow bait","x":277,"y":23.0},{"s":"Slow bait","x":280,"y":23.0},{"s":"Slow bait","x":283,"y":22.8},{"s":"Slow bait","x":286,"y":22.6},{"s":"Slow bait","x":289,"y":22.7},{"s":"Slow bait","x":292,"y":22.7},{"s":"Slow bait","x":295,"y":22.7},{"s":"Slow bait","x":298,"y":22.8},{"s":"Slow bait","x":301,"y":22.6},{"s":"Slow bait","x":304,"y":22.5},{"s":"Slow bait","x":307,"y":22.4},{"s":"Slow bait","x":310,"y":22.4},{"s":"Slow bait","x":313,"y":22.3},{"s":"Slow bait","x":316,"y":22.2},{"s":"Slow bait","x":319,"y":22.2},{"s":"Slow bait","x":322,"y":22.2},{"s":"Slow bait","x":325,"y":22.2},{"s":"Slow bait","x":328,"y":22.1},{"s":"Slow bait","x":331,"y":21.9},{"s":"Slow bait","x":334,"y":21.6},{"s":"Slow bait","x":337,"y":21.6},{"s":"Slow bait","x":340,"y":21.55},
      {"s":"Fast bait","x":1,"y":6.3},{"s":"Fast bait","x":3,"y":7.0},{"s":"Fast bait","x":5,"y":8.1},{"s":"Fast bait","x":7,"y":8.6},{"s":"Fast bait","x":9,"y":9.1},{"s":"Fast bait","x":11,"y":9.5},{"s":"Fast bait","x":13,"y":9.9},{"s":"Fast bait","x":15,"y":10.1},{"s":"Fast bait","x":17,"y":10.4},{"s":"Fast bait","x":19,"y":10.6},{"s":"Fast bait","x":21,"y":11.1},{"s":"Fast bait","x":23,"y":11.6},{"s":"Fast bait","x":25,"y":12.1},{"s":"Fast bait","x":27,"y":12.5},{"s":"Fast bait","x":29,"y":12.8},{"s":"Fast bait","x":31,"y":12.7},{"s":"Fast bait","x":33,"y":12.4},{"s":"Fast bait","x":35,"y":12.5},{"s":"Fast bait","x":37,"y":13.0},{"s":"Fast bait","x":39,"y":13.4},{"s":"Fast bait","x":41,"y":13.6},{"s":"Fast bait","x":43,"y":13.9},{"s":"Fast bait","x":45,"y":14.2},{"s":"Fast bait","x":47,"y":14.5},{"s":"Fast bait","x":49,"y":14.8},{"s":"Fast bait","x":51,"y":14.95},{"s":"Fast bait","x":54,"y":15.1},{"s":"Fast bait","x":57,"y":15.2},{"s":"Fast bait","x":60,"y":15.3},{"s":"Fast bait","x":63,"y":15.5},{"s":"Fast bait","x":66,"y":15.6},{"s":"Fast bait","x":69,"y":15.9},{"s":"Fast bait","x":71,"y":16.3},{"s":"Fast bait","x":73,"y":16.7},{"s":"Fast bait","x":75,"y":16.8},{"s":"Fast bait","x":78,"y":16.9},{"s":"Fast bait","x":81,"y":17.0},{"s":"Fast bait","x":84,"y":17.1},{"s":"Fast bait","x":87,"y":17.2},{"s":"Fast bait","x":90,"y":17.3},{"s":"Fast bait","x":93,"y":17.4},{"s":"Fast bait","x":96,"y":17.5},{"s":"Fast bait","x":99,"y":17.5},{"s":"Fast bait","x":102,"y":17.4},{"s":"Fast bait","x":105,"y":17.2},{"s":"Fast bait","x":108,"y":16.9},{"s":"Fast bait","x":111,"y":16.8},{"s":"Fast bait","x":114,"y":16.9},{"s":"Fast bait","x":117,"y":16.6},{"s":"Fast bait","x":120,"y":16.6},{"s":"Fast bait","x":123,"y":16.8},{"s":"Fast bait","x":126,"y":17.0},{"s":"Fast bait","x":129,"y":17.1},{"s":"Fast bait","x":132,"y":17.2},{"s":"Fast bait","x":135,"y":17.4},{"s":"Fast bait","x":138,"y":17.5},{"s":"Fast bait","x":141,"y":17.7},{"s":"Fast bait","x":144,"y":17.9},{"s":"Fast bait","x":147,"y":18.1},{"s":"Fast bait","x":150,"y":18.2},{"s":"Fast bait","x":153,"y":18.5},{"s":"Fast bait","x":156,"y":18.7},{"s":"Fast bait","x":159,"y":18.8},{"s":"Fast bait","x":162,"y":19.0},{"s":"Fast bait","x":165,"y":19.2},{"s":"Fast bait","x":168,"y":19.4},{"s":"Fast bait","x":171,"y":19.6},{"s":"Fast bait","x":174,"y":20.1},{"s":"Fast bait","x":177,"y":20.6},{"s":"Fast bait","x":180,"y":21.0},{"s":"Fast bait","x":183,"y":21.3},{"s":"Fast bait","x":186,"y":21.6},{"s":"Fast bait","x":189,"y":21.9},{"s":"Fast bait","x":192,"y":22.2},{"s":"Fast bait","x":195,"y":22.5},{"s":"Fast bait","x":198,"y":22.7},{"s":"Fast bait","x":201,"y":22.9},{"s":"Fast bait","x":204,"y":23.0},{"s":"Fast bait","x":207,"y":23.3},{"s":"Fast bait","x":210,"y":23.6},{"s":"Fast bait","x":213,"y":24.0},{"s":"Fast bait","x":216,"y":24.4},{"s":"Fast bait","x":219,"y":25.0},{"s":"Fast bait","x":222,"y":25.3},{"s":"Fast bait","x":225,"y":25.6},{"s":"Fast bait","x":228,"y":25.6},{"s":"Fast bait","x":231,"y":25.5},{"s":"Fast bait","x":234,"y":25.5},{"s":"Fast bait","x":237,"y":25.6},{"s":"Fast bait","x":240,"y":25.8},{"s":"Fast bait","x":243,"y":26.2},{"s":"Fast bait","x":246,"y":26.3},{"s":"Fast bait","x":249,"y":26.3},{"s":"Fast bait","x":252,"y":26.3},{"s":"Fast bait","x":255,"y":26.2},{"s":"Fast bait","x":258,"y":26.5},{"s":"Fast bait","x":261,"y":26.9},{"s":"Fast bait","x":264,"y":27.3},{"s":"Fast bait","x":267,"y":27.7},{"s":"Fast bait","x":270,"y":27.9},{"s":"Fast bait","x":273,"y":28.0},{"s":"Fast bait","x":276,"y":28.1},{"s":"Fast bait","x":279,"y":28.1},{"s":"Fast bait","x":282,"y":28.2},{"s":"Fast bait","x":285,"y":29.0},{"s":"Fast bait","x":288,"y":29.6},{"s":"Fast bait","x":291,"y":30.0},{"s":"Fast bait","x":294,"y":29.9},{"s":"Fast bait","x":297,"y":29.8},{"s":"Fast bait","x":300,"y":29.9},{"s":"Fast bait","x":303,"y":30.3},{"s":"Fast bait","x":306,"y":30.5},{"s":"Fast bait","x":309,"y":30.8},{"s":"Fast bait","x":312,"y":31.0},{"s":"Fast bait","x":315,"y":31.1},{"s":"Fast bait","x":318,"y":31.2},{"s":"Fast bait","x":321,"y":31.3},{"s":"Fast bait","x":324,"y":31.5},{"s":"Fast bait","x":327,"y":31.8},{"s":"Fast bait","x":330,"y":32.4},{"s":"Fast bait","x":333,"y":32.6},{"s":"Fast bait","x":336,"y":32.7},{"s":"Fast bait","x":339,"y":32.8},{"s":"Fast bait","x":341,"y":33.0},
      {"s":"Control","x":1,"y":4.5},{"s":"Control","x":2,"y":5.5},{"s":"Control","x":3,"y":6.3},{"s":"Control","x":4,"y":6.9},{"s":"Control","x":5,"y":7.4},{"s":"Control","x":6,"y":7.9},{"s":"Control","x":7,"y":8.1},{"s":"Control","x":8,"y":8.5},{"s":"Control","x":9,"y":8.7},{"s":"Control","x":11,"y":8.8},{"s":"Control","x":13,"y":8.7},{"s":"Control","x":15,"y":8.8},{"s":"Control","x":17,"y":8.7},{"s":"Control","x":19,"y":8.6},{"s":"Control","x":21,"y":8.8},{"s":"Control","x":23,"y":9.2},{"s":"Control","x":25,"y":9.3},{"s":"Control","x":27,"y":9.6},{"s":"Control","x":29,"y":9.9},{"s":"Control","x":31,"y":10.4},{"s":"Control","x":33,"y":10.5},{"s":"Control","x":35,"y":10.8},{"s":"Control","x":37,"y":11.0},{"s":"Control","x":39,"y":11.6},{"s":"Control","x":41,"y":11.8},{"s":"Control","x":43,"y":12.0},{"s":"Control","x":45,"y":12.2},{"s":"Control","x":47,"y":12.3},{"s":"Control","x":49,"y":12.5},{"s":"Control","x":51,"y":12.7},{"s":"Control","x":53,"y":12.8},{"s":"Control","x":55,"y":13.0},{"s":"Control","x":57,"y":12.9},{"s":"Control","x":59,"y":13.0},{"s":"Control","x":61,"y":13.1},{"s":"Control","x":63,"y":13.2},{"s":"Control","x":65,"y":13.5},{"s":"Control","x":67,"y":13.8},{"s":"Control","x":69,"y":14.0},{"s":"Control","x":71,"y":14.2},{"s":"Control","x":73,"y":14.0},{"s":"Control","x":75,"y":14.1},{"s":"Control","x":77,"y":14.4},{"s":"Control","x":79,"y":14.5},{"s":"Control","x":81,"y":14.5},{"s":"Control","x":83,"y":14.6},{"s":"Control","x":85,"y":14.5},{"s":"Control","x":87,"y":14.4},{"s":"Control","x":89,"y":14.3},{"s":"Control","x":91,"y":14.4},{"s":"Control","x":93,"y":14.6},{"s":"Control","x":95,"y":14.8},{"s":"Control","x":97,"y":15.3},{"s":"Control","x":99,"y":15.7},{"s":"Control","x":101,"y":15.9},{"s":"Control","x":103,"y":16.0},{"s":"Control","x":105,"y":15.8},{"s":"Control","x":107,"y":15.9},{"s":"Control","x":110,"y":16.0},{"s":"Control","x":113,"y":16.1},{"s":"Control","x":116,"y":16.2},{"s":"Control","x":119,"y":16.3},{"s":"Control","x":122,"y":16.5},{"s":"Control","x":125,"y":16.7},{"s":"Control","x":128,"y":16.9},{"s":"Control","x":131,"y":17.0},{"s":"Control","x":134,"y":17.2},{"s":"Control","x":137,"y":17.4},{"s":"Control","x":140,"y":17.6},{"s":"Control","x":143,"y":17.8},{"s":"Control","x":146,"y":18.0},{"s":"Control","x":149,"y":18.1},{"s":"Control","x":152,"y":18.3},{"s":"Control","x":155,"y":18.5},{"s":"Control","x":158,"y":18.7},{"s":"Control","x":161,"y":18.8},{"s":"Control","x":164,"y":18.9},{"s":"Control","x":167,"y":18.5},{"s":"Control","x":170,"y":18.3},{"s":"Control","x":173,"y":18.6},{"s":"Control","x":176,"y":19.0},{"s":"Control","x":179,"y":19.3},{"s":"Control","x":182,"y":19.5},{"s":"Control","x":185,"y":19.8},{"s":"Control","x":188,"y":20.0},{"s":"Control","x":191,"y":20.2},{"s":"Control","x":194,"y":20.4},{"s":"Control","x":197,"y":20.6},{"s":"Control","x":200,"y":20.8},{"s":"Control","x":203,"y":21.0},{"s":"Control","x":206,"y":21.2},{"s":"Control","x":209,"y":21.5},{"s":"Control","x":212,"y":21.8},{"s":"Control","x":215,"y":22.0},{"s":"Control","x":218,"y":22.2},{"s":"Control","x":221,"y":22.4},{"s":"Control","x":224,"y":22.5},{"s":"Control","x":227,"y":22.6},{"s":"Control","x":230,"y":22.7},{"s":"Control","x":233,"y":22.8},{"s":"Control","x":236,"y":22.85},{"s":"Control","x":239,"y":22.9},{"s":"Control","x":242,"y":23.0},{"s":"Control","x":245,"y":23.0},{"s":"Control","x":248,"y":23.2},{"s":"Control","x":251,"y":23.5},{"s":"Control","x":253,"y":23.6},{"s":"Control","x":255,"y":23.9},{"s":"Control","x":257,"y":24.1},{"s":"Control","x":259,"y":23.8},{"s":"Control","x":261,"y":23.6},{"s":"Control","x":264,"y":23.7},{"s":"Control","x":267,"y":23.6},{"s":"Control","x":270,"y":23.5},{"s":"Control","x":273,"y":23.5},{"s":"Control","x":276,"y":23.5},{"s":"Control","x":279,"y":23.6},{"s":"Control","x":281,"y":23.2},{"s":"Control","x":284,"y":23.1},{"s":"Control","x":287,"y":23.2},{"s":"Control","x":290,"y":23.3},{"s":"Control","x":293,"y":23.5},{"s":"Control","x":296,"y":23.8},{"s":"Control","x":299,"y":24.0},{"s":"Control","x":301,"y":23.3},{"s":"Control","x":303,"y":23.0},{"s":"Control","x":306,"y":23.1},{"s":"Control","x":309,"y":23.0},{"s":"Control","x":312,"y":22.9},{"s":"Control","x":315,"y":23.0},{"s":"Control","x":318,"y":23.2},{"s":"Control","x":321,"y":23.5},{"s":"Control","x":323,"y":23.0},{"s":"Control","x":325,"y":22.7},{"s":"Control","x":328,"y":22.6},{"s":"Control","x":331,"y":22.5},{"s":"Control","x":334,"y":22.4},{"s":"Control","x":337,"y":22.4},{"s":"Control","x":340,"y":22.8},{"s":"Control","x":342,"y":23.0},{"s":"Control","x":344,"y":23.0},{"s":"Control","x":346,"y":22.9},{"s":"Control","x":348,"y":22.7},{"s":"Control","x":351,"y":22.3}
    ]
  },
  "vconcat": [
    {
      "width": 960,
      "height": 384,
      "layer": [
        {
          "data": {"name": "pruitt"},
          "mark": {"type": "line", "color": "black", "strokeWidth": 1.6},
          "encoding": {
            "x": {"field": "x", "type": "quantitative", "scale": {"domain": [-10, 400], "nice": false, "zero": false}, "axis": {"values": [0, 100, 200, 300, 400], "labels": false, "title": null}},
            "y": {"field": "y", "type": "quantitative", "scale": {"domain": [0, 25], "nice": false}, "axis": {"values": [0, 5, 10, 15, 20, 25], "title": null}},
            "strokeDash": {
              "field": "s", "type": "nominal",
              "scale": {"domain": ["Slow bait", "Fast bait", "Control"], "range": [[1, 0], [1.5, 6.5], [17, 8]]},
              "legend": {
                "orient": "none", "legendX": 720, "legendY": 244, "title": null,
                "symbolType": "M-9,0H1", "symbolSize": 225, "symbolStrokeWidth": 1.6, "symbolStrokeColor": "black",
                "labelFontSize": 32, "labelFont": "Liberation Sans", "labelColor": "black", "labelOffset": 9,
                "rowPadding": 6, "padding": 0, "labelLimit": 0
              }
            }
          }
        },
        {
          "data": {"values": [{"label": "Pruitt - \"Low\""}]},
          "mark": {"type": "text", "align": "left", "baseline": "alphabetic", "fontSize": 36, "font": "Liberation Sans", "color": "black"},
          "encoding": {"x": {"datum": -7}, "y": {"datum": 22.1}, "text": {"field": "label", "type": "nominal"}}
        }
      ]
    },
    {
      "width": 960,
      "height": 384,
      "layer": [
        {
          "data": {"name": "barr"},
          "mark": {"type": "line", "color": "black", "strokeWidth": 1.6},
          "encoding": {
            "x": {"field": "x", "type": "quantitative", "scale": {"domain": [-10, 400], "nice": false, "zero": false}, "axis": {"values": [0, 100, 200, 300, 400], "labels": false, "title": null}},
            "y": {"field": "y", "type": "quantitative", "scale": {"domain": [0, 30], "nice": false}, "axis": {"values": [0, 5, 10, 15, 20, 25, 30], "title": "Chao 2", "titlePadding": 27}},
            "strokeDash": {
              "field": "s", "type": "nominal",
              "scale": {"domain": ["Slow bait", "Fast bait", "Control"], "range": [[1, 0], [1.5, 6.5], [17, 8]]},
              "legend": null
            }
          }
        },
        {
          "data": {"values": [{"label": "Barr - \"Medium\""}]},
          "mark": {"type": "text", "align": "left", "baseline": "alphabetic", "fontSize": 36, "font": "Liberation Sans", "color": "black"},
          "encoding": {"x": {"datum": -6.2}, "y": {"datum": 26.2}, "text": {"field": "label", "type": "nominal"}}
        }
      ]
    },
    {
      "width": 960,
      "height": 384,
      "layer": [
        {
          "data": {"name": "c3"},
          "mark": {"type": "line", "color": "black", "strokeWidth": 1.6},
          "encoding": {
            "x": {"field": "x", "type": "quantitative", "scale": {"domain": [-10, 400], "nice": false, "zero": false}, "axis": {"values": [0, 100, 200, 300, 400], "title": "Samples", "labelPadding": 18, "titlePadding": 25, "labelFlush": false}},
            "y": {"field": "y", "type": "quantitative", "scale": {"domain": [0, 35], "nice": false}, "axis": {"values": [0, 5, 10, 15, 20, 25, 30, 35], "title": null}},
            "strokeDash": {
              "field": "s", "type": "nominal",
              "scale": {"domain": ["Slow bait", "Fast bait", "Control"], "range": [[1, 0], [1.5, 6.5], [17, 8]]},
              "legend": null
            }
          }
        },
        {
          "data": {"values": [{"label": "C3 - \"High\""}]},
          "mark": {"type": "text", "align": "left", "baseline": "alphabetic", "fontSize": 36, "font": "Liberation Sans", "color": "black"},
          "encoding": {"x": {"datum": -4.2}, "y": {"datum": 30.9}, "text": {"field": "label", "type": "nominal"}}
        }
      ]
    }
  ],
  "config": {
    "font": "Liberation Sans",
    "view": {"stroke": "black", "strokeWidth": 1.5},
    "axis": {
      "grid": false,
      "labelFlush": false,
      "domainColor": "black", "domainWidth": 1.5,
      "tickColor": "black", "tickWidth": 1.5, "tickSize": 10,
      "labelColor": "black", "labelFontSize": 26, "labelFont": "Liberation Sans", "labelPadding": 12,
      "titleColor": "black", "titleFontSize": 36, "titleFontWeight": "normal", "titleFont": "Liberation Sans"
    }
  }
}
